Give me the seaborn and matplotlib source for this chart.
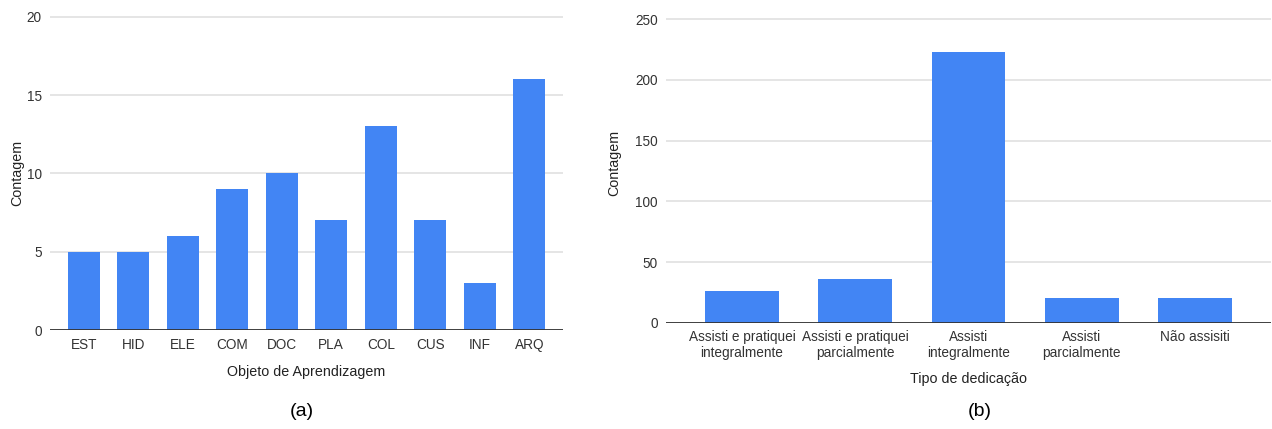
import matplotlib
matplotlib.use("Agg")
import matplotlib.pyplot as plt
import seaborn as sns
import pandas as pd

# dados do painel (a)
objetos = ["EST", "HID", "ELE", "COM", "DOC", "PLA", "COL", "CUS", "INF", "ARQ"]
contagem_obj = [5, 5, 6, 9, 10, 7, 13, 7, 3, 16]
ticks_a = [0, 5, 10, 15, 20]

# dados do painel (b)
dedicacao = ["Assisti e pratiquei\nintegralmente", "Assisti e pratiquei\nparcialmente",
             "Assisti\nintegralmente", "Assisti\nparcialmente", "Não assisiti"]
contagem_ded = [26, 36, 223, 20, 20]
ticks_b = [0, 50, 100, 150, 200, 250]

sns.set_theme(style="white")
plt.rcParams["font.family"] = ["Liberation Sans", "DejaVu Sans"]

W, H = 1272, 429
fig = plt.figure(figsize=(W / 100, H / 100), dpi=100)

BLUE = "#4285F4"
GRID = "#dedede"
BASE = "#333333"
TXT = "#222222"


def painel(rect_px, ylim_top, cats, vals, ticks, xlim_pad, tick_pad):
    x0, x1, y_top, y_base = rect_px
    # deixa uma folga minima para a linha de grade superior aparecer inteira
    top_ext = ylim_top * 1.01
    px_per = (y_base - y_top) / ylim_top
    h_px = top_ext * px_per
    ax = fig.add_axes([x0 / W, 1 - y_base / H, (x1 - x0) / W, h_px / H])
    df = pd.DataFrame({"cat": cats, "val": vals})
    sns.barplot(data=df, x="cat", y="val", color=BLUE, saturation=1, width=0.65,
                ax=ax, zorder=3)
    for p in ax.patches:
        p.set_edgecolor("none")
    ax.set_ylim(0, top_ext)
    ax.set_xlim(-0.5 - xlim_pad, len(cats) - 0.5 + xlim_pad)
    ax.set_yticks(ticks)
    ax.yaxis.grid(True, color=GRID, lw=1.1, zorder=0)
    ax.axhline(0, color=BASE, lw=1.3, zorder=4)
    for s in ax.spines.values():
        s.set_visible(False)
    ax.tick_params(axis="both", length=0, labelsize=9.8, labelcolor="#333333")
    ax.tick_params(axis="x", pad=tick_pad)
    ax.tick_params(axis="y", pad=6)
    ax.set_xlabel("")
    ax.set_ylabel("")
    return ax


ax_a = painel((50, 563, 16.7, 330), 20, objetos, contagem_obj, ticks_a, 0.18, 6)
ax_b = painel((666, 1271, 19.3, 322.7), 250, dedicacao, contagem_ded, ticks_b, 0.17, 5)
for lab in ax_b.get_xticklabels():
    lab.set_linespacing(1.2)

# rotulos dos eixos e legendas (a)/(b)
fig.text(17 / W, 1 - 173 / H, "Contagem", rotation=90, ha="center", va="center",
         fontsize=10.3, color=TXT)
fig.text(614 / W, 1 - 163 / H, "Contagem", rotation=90, ha="center", va="center",
         fontsize=10.3, color=TXT)
fig.text(306 / W, 1 - 372 / H, "Objeto de Aprendizagem", ha="center", va="center",
         fontsize=10.3, color=TXT)
fig.text(968 / W, 1 - 379 / H, "Tipo de dedicação", ha="center", va="center",
         fontsize=10.3, color=TXT)
fig.text(302 / W, 1 - 412 / H, "(a)", ha="center", va="center", fontsize=14, color="black")
fig.text(980 / W, 1 - 412 / H, "(b)", ha="center", va="center", fontsize=14, color="black")

fig.savefig("out.png", dpi=100, facecolor="white")
